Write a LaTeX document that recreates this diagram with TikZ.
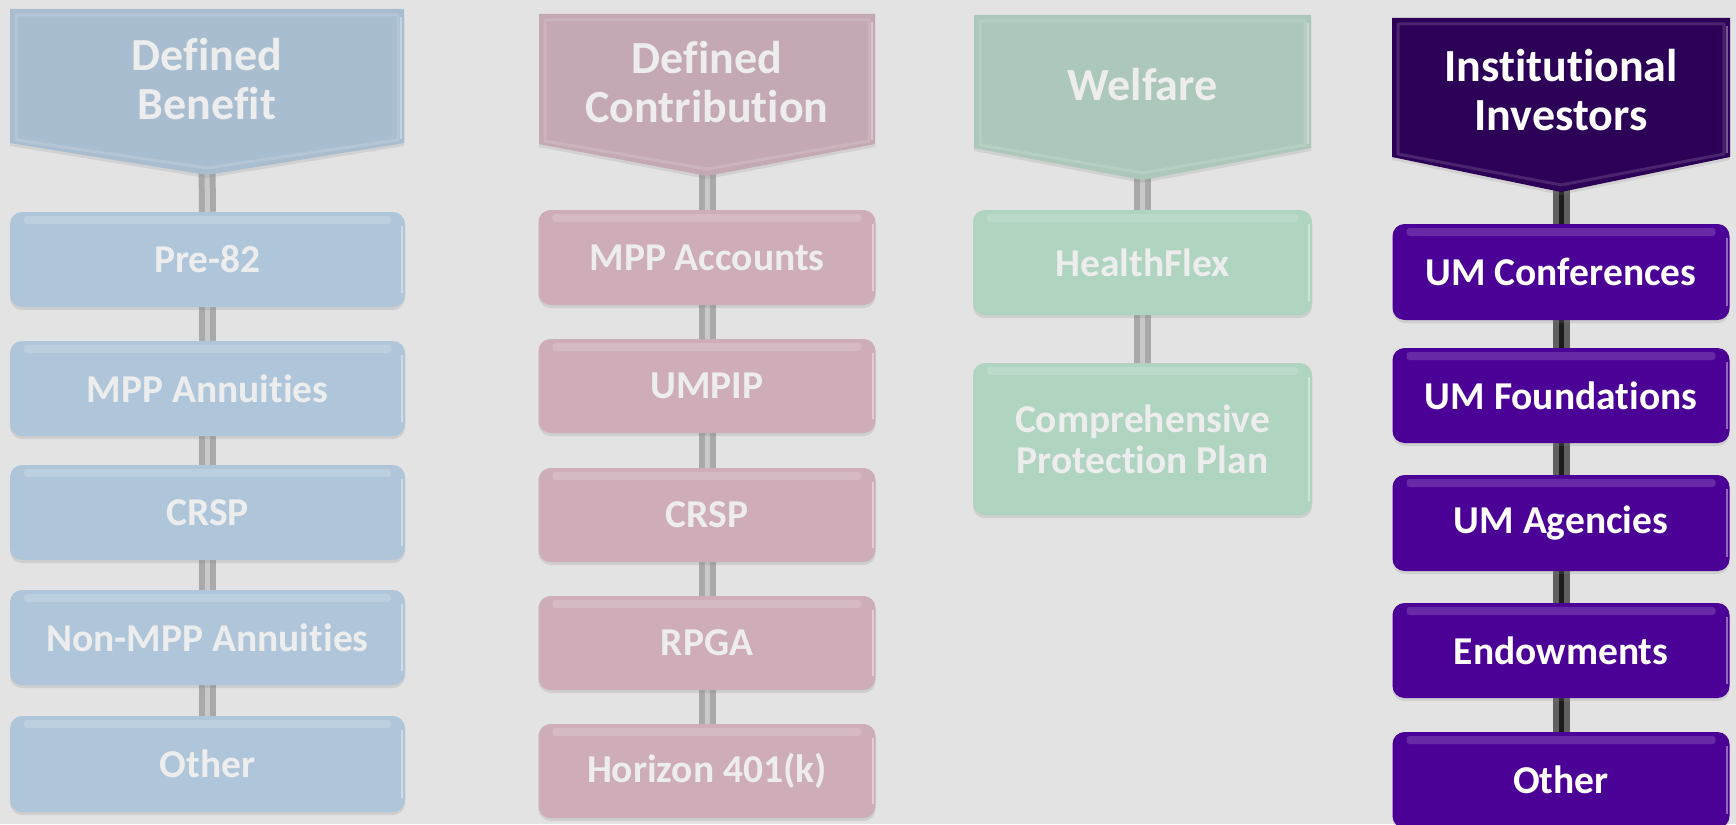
\documentclass[tikz,border=0pt]{standalone}
\usepackage{fontspec}
\setmainfont{Carlito}[Ligatures=CommonOff]
\usetikzlibrary{shadows,calc}
\pgfdeclarelayer{bglayer}
\pgfdeclarelayer{connlayer}
\pgfsetlayers{bglayer,connlayer,main}
\definecolor{bgc}{HTML}{E3E3E3}
\definecolor{fadetxt}{HTML}{EDEDED}
\definecolor{hA}{HTML}{A8BDCF}
\definecolor{bA}{HTML}{AFC6DA}
\definecolor{hB}{HTML}{C4A8B3}
\definecolor{bB}{HTML}{CEADB9}
\definecolor{hC}{HTML}{ABC8BA}
\definecolor{bC}{HTML}{AFD4C0}
\definecolor{hD}{HTML}{2D0057}
\definecolor{bD}{HTML}{4B0096}
\definecolor{connout}{HTML}{A9A9A9}
\definecolor{connin}{HTML}{C9C9C9}
\definecolor{darkout}{HTML}{606060}
\definecolor{darkin}{HTML}{1C1C1C}
\tikzset{
  hdrshade/.style={drop shadow={shadow xshift=0pt,shadow yshift=-3pt,opacity=.18}},
  hdrtext/.style={inner sep=0pt, align=center, font=\fontsize{46}{49}\selectfont\bfseries},
  itembox/.style={rounded corners=12pt, inner sep=0pt, align=center,
    font=\fontsize{39.5}{41}\selectfont\bfseries,
    drop shadow={shadow xshift=0pt,shadow yshift=-3pt,opacity=.2},
    path picture={
      \fill[white,opacity=.16,rounded corners=3pt]
        ([xshift=14pt,yshift=-4pt]path picture bounding box.north west) rectangle
        ([xshift=-14pt,yshift=-12pt]path picture bounding box.north east);
      \draw[white,opacity=.4,line width=2pt]
        ([xshift=-3pt,yshift=-14pt]path picture bounding box.north east) --
        ([xshift=-3pt,yshift=14pt]path picture bounding box.south east);
    }},
  fadebox/.style={itembox, text=fadetxt},
  darkbox/.style={itembox, text=white, fill=bD},
  conn/.style={draw=connout, line width=6pt, double=connin, double distance=5pt},
  darkconn/.style={draw=darkout, line width=6pt, double=darkin, double distance=5pt},
}
\newcommand\drawheader[6]{%
  \fill[hdrshade,#6] (#1,#3) -- (#2,#3) -- (#2,#4) -- ({(#1+#2)/2},#5) -- (#1,#4) -- cycle;
  \draw[white,opacity=.14,line width=3pt,line join=round]
    ({#1+6},{#3+6}) -- ({#2-6},{#3+6}) -- ({#2-6},{#4-3}) -- ({(#1+#2)/2},{#5-7}) -- ({#1+6},{#4-3}) -- cycle;
  \draw[white,opacity=.35,line width=2pt] ({#2-3},{#3+8}) -- ({#2-3},{#4-4});
}
\begin{document}
\begin{tikzpicture}[x=1pt,y=-1pt]
\useasboundingbox (0,0) rectangle (1736,824);
\begin{pgfonlayer}{bglayer}
\fill[bgc] (0,0) rectangle (1736,824);
\end{pgfonlayer}

% Column 1: Defined Benefit
\drawheader{10}{404}{9}{143}{175}{hA}
\node[hdrtext, text=fadetxt] (h1) at (207,79) {Defined\\Benefit};
\coordinate (t1) at (207,165);
\node[fadebox, fill=bA, minimum width=395pt, minimum height=95pt] (b11) at (207.5,259.5) {Pre-82};
\node[fadebox, fill=bA, minimum width=395pt, minimum height=95pt] (b12) at (207.5,388.5) {MPP Annuities};
\node[fadebox, fill=bA, minimum width=395pt, minimum height=95pt] (b13) at (207.5,512.5) {CRSP};
\node[fadebox, fill=bA, minimum width=395pt, minimum height=95pt] (b14) at (207.5,637.5) {Non-MPP Annuities};
\node[fadebox, fill=bA, minimum width=395pt, minimum height=96pt] (b15) at (207.5,764) {Other};

% Column 2: Defined Contribution
\drawheader{539}{875}{14}{144}{176}{hB}
\node[hdrtext, text=fadetxt] (h2) at (707,82) {Defined\\Contribution};
\coordinate (t2) at (707,166);
\node[fadebox, fill=bB, minimum width=337pt, minimum height=95pt] (b21) at (707,257.5) {MPP Accounts};
\node[fadebox, fill=bB, minimum width=337pt, minimum height=94pt] (b22) at (707,386) {UMPIP};
\node[fadebox, fill=bB, minimum width=337pt, minimum height=94pt] (b23) at (707,515) {CRSP};
\node[fadebox, fill=bB, minimum width=337pt, minimum height=94pt] (b24) at (707,643) {RPGA};
\node[fadebox, fill=bB, minimum width=337pt, minimum height=94pt] (b25) at (707,771) {Horizon 401(k)};

% Column 3: Welfare
\drawheader{974}{1311}{15}{148}{180}{hC}
\node[hdrtext, text=fadetxt] (h3) at (1142.5,85) {Welfare};
\coordinate (t3) at (1142.5,170);
\node[fadebox, fill=bC, minimum width=339pt, minimum height=105pt] (b31) at (1142.5,262.5) {HealthFlex};
\node[fadebox, fill=bC, minimum width=339pt, minimum height=152pt] (b32) at (1142.5,439) {Comprehensive\\Protection Plan};

% Column 4: Institutional Investors
\drawheader{1392}{1730}{18}{157}{192}{hD}
\node[hdrtext, text=white] (h4) at (1561,90) {Institutional\\Investors};
\coordinate (t4) at (1561,182);
\node[darkbox, minimum width=337pt, minimum height=96pt] (b41) at (1561,272) {UM Conferences};
\node[darkbox, minimum width=337pt, minimum height=95pt] (b42) at (1561,395.5) {UM Foundations};
\node[darkbox, minimum width=337pt, minimum height=96pt] (b43) at (1561,523) {UM Agencies};
\node[darkbox, minimum width=337pt, minimum height=95pt] (b44) at (1561,650.5) {Endowments};
\node[darkbox, minimum width=337pt, minimum height=96pt] (b45) at (1561,780) {Other};

\begin{pgfonlayer}{connlayer}
\draw[conn] (t1) -- (b11.north);
\draw[conn] (b11.south) -- (b12.north);
\draw[conn] (b12.south) -- (b13.north);
\draw[conn] (b13.south) -- (b14.north);
\draw[conn] (b14.south) -- (b15.north);
\draw[conn] (t2) -- (b21.north);
\draw[conn] (b21.south) -- (b22.north);
\draw[conn] (b22.south) -- (b23.north);
\draw[conn] (b23.south) -- (b24.north);
\draw[conn] (b24.south) -- (b25.north);
\draw[conn] (t3) -- (b31.north);
\draw[conn] (b31.south) -- (b32.north);
\draw[darkconn] (t4) -- (b41.north);
\draw[darkconn] (b41.south) -- (b42.north);
\draw[darkconn] (b42.south) -- (b43.north);
\draw[darkconn] (b43.south) -- (b44.north);
\draw[darkconn] (b44.south) -- (b45.north);
\end{pgfonlayer}
\end{tikzpicture}
\end{document}
